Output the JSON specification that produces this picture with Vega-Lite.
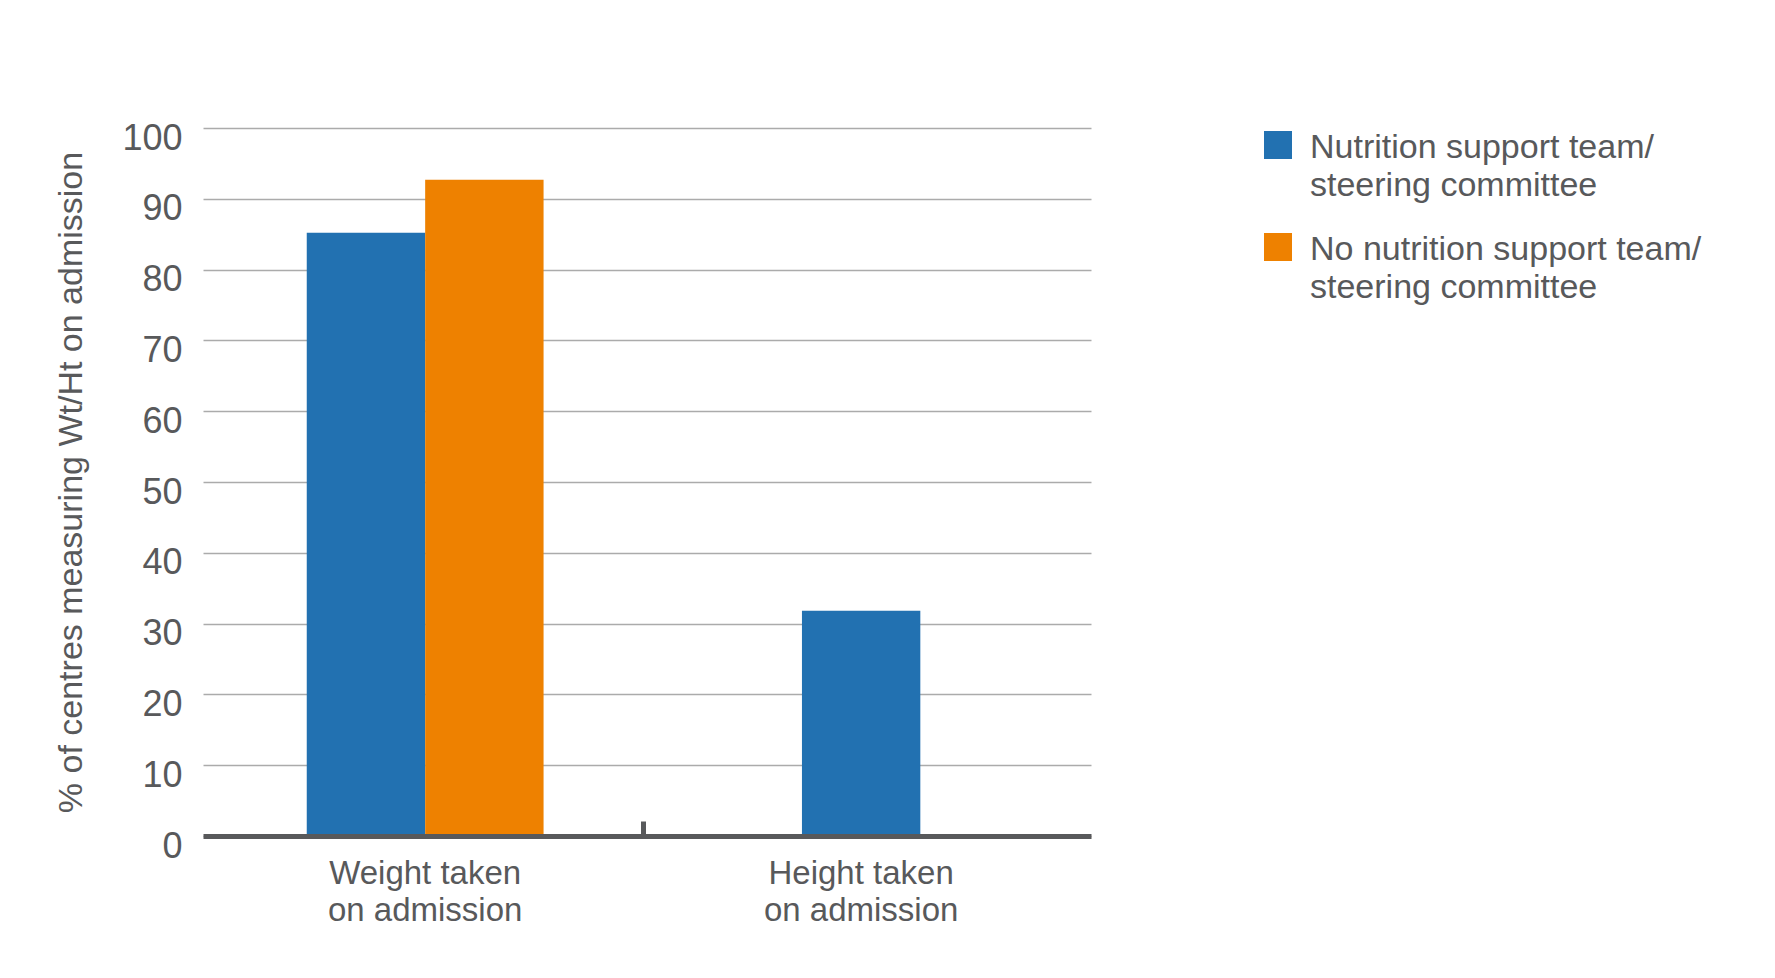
{
  "$schema": "https://vega.github.io/schema/vega-lite/v6.json",
  "autosize": {"type": "none"},
  "width": 888,
  "height": 708,
  "padding": {"left": 203, "top": 128, "right": 684, "bottom": 142},
  "background": "white",
  "config": {
    "view": {"stroke": null},
    "font": "Liberation Sans",
    "style": {"guide-label": {"dy": 13, "lineHeight": 38}}
  },
  "data": {"values": [
    {"measure": "Weight taken on admission", "group": "Nutrition support team/ steering committee", "pct": 85.2},
    {"measure": "Weight taken on admission", "group": "No nutrition support team/ steering committee", "pct": 92.7},
    {"measure": "Height taken on admission", "group": "Nutrition support team/ steering committee", "pct": 31.8}
  ]},
  "encoding": {
    "x": {
      "field": "measure", "type": "nominal",
      "sort": ["Weight taken on admission", "Height taken on admission"],
      "scale": {"domain": ["Weight taken on admission", "Height taken on admission"], "paddingInner": 0, "paddingOuter": 0.0184, "align": 0.26},
      "axis": {
        "title": null, "labelAngle": 0, "labelFontSize": 33, "labelColor": "#58595b",
        "labelLineHeight": 37, "labelBaseline": "top", "labelPadding": 23, "labelLimit": 500,
        "labelExpr": "[replace(datum.label, ' on admission', ''), 'on admission']",
        "domainColor": "#58595b", "domainWidth": 5,
        "ticks": true, "tickSize": -15, "tickWidth": 5, "bandPosition": 0,
        "tickColor": {"condition": {"test": "datum.value === 'Height taken on admission'", "value": "#58595b"}, "value": "rgba(0,0,0,0)"},
        "grid": false, "zindex": 1
      }
    },
    "y": {
      "field": "pct", "type": "quantitative",
      "scale": {"domain": [0, 100], "nice": false},
      "axis": {
        "title": "% of centres measuring Wt/Ht on admission",
        "values": [0, 10, 20, 30, 40, 50, 60, 70, 80, 90, 100],
        "domain": false, "ticks": false, "grid": true, "gridColor": "#ababab", "gridWidth": 1.3,
        "labelFontSize": 36, "labelColor": "#58595b", "labelPadding": 21, "labelOffset": -3,
        "titleFontSize": 34, "titleFontWeight": "normal", "titleColor": "#58595b", "titlePadding": 33
      }
    },
    "color": {
      "field": "group", "type": "nominal",
      "scale": {"domain": ["Nutrition support team/ steering committee", "No nutrition support team/ steering committee"], "range": ["#2271b1", "#ee8100"]},
      "legend": {
        "orient": "none", "legendX": 1058, "legendY": 0, "title": null, "padding": 0,
        "symbolType": "square", "symbolSize": 784, "symbolStrokeWidth": 0,
        "labelFontSize": 34, "labelColor": "#58595b", "labelLimit": 700, "labelOffset": 15,
        "labelBaseline": "alphabetic", "rowPadding": 27,
        "labelExpr": "[replace(datum.label, '/ steering committee', '/'), 'steering committee']"
      }
    }
  },
  "layer": [
    {
      "transform": [{"filter": "datum.measure === 'Weight taken on admission'"}],
      "mark": {"type": "bar"},
      "encoding": {
        "xOffset": {"field": "group", "type": "nominal",
          "sort": ["Nutrition support team/ steering committee", "No nutrition support team/ steering committee"],
          "scale": {"domain": ["Nutrition support team/ steering committee", "No nutrition support team/ steering committee"], "paddingInner": 0, "paddingOuter": 0.841}}
      }
    },
    {
      "transform": [{"filter": "datum.measure === 'Height taken on admission'"}],
      "mark": {"type": "bar", "width": {"band": 0.2715}}
    }
  ]
}
